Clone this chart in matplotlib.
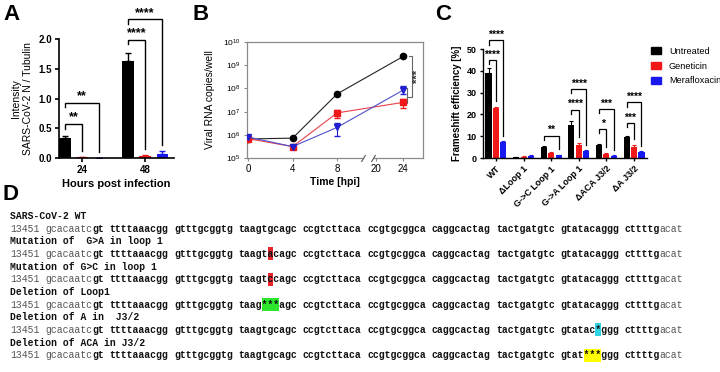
import numpy as np
import matplotlib
matplotlib.use('Agg')
import matplotlib.pyplot as plt
from matplotlib.patches import Rectangle, Patch

plt.rcParams['font.family'] = ['Liberation Sans', 'DejaVu Sans']
plt.rcParams['mathtext.fontset'] = 'custom'
plt.rcParams['mathtext.rm'] = 'Liberation Sans'
plt.rcParams['mathtext.it'] = 'Liberation Sans'

# ---------------- data ----------------
# Panel A
a_hours = ['24', '48']
a_untreated = [0.34, 1.63]
a_untreated_err = [0.03, 0.14]
a_geneticin = [0.01, 0.04]
a_geneticin_err = [0.005, 0.01]
a_merafloxacin = [0.005, 0.07]
a_merafloxacin_err = [0.003, 0.05]
a_sig_group = [0, 0, 1, 1]
a_sig_bar = [1, 2, 1, 2]
a_sig_height = [0.57, 0.93, 1.99, 2.33]
a_sig_text = ['**', '**', '****', '****']

# Panel B
b_time = [0, 4, 8, 24]
b_untreated = [6.6e5, 7.2e5, 5.8e7, 2.4e9]
b_geneticin = [6.8e5, 3.1e5, 8.8e6, 2.5e7]
b_geneticin_lo = [6.8e5, 3.1e5, 5.5e6, 1.4e7]
b_geneticin_hi = [6.8e5, 3.1e5, 1.2e7, 3.5e7]
b_merafloxacin = [8.0e5, 3.1e5, 2.1e6, 8.5e7]
b_merafloxacin_lo = [8.0e5, 3.1e5, 9.0e5, 5.7e7]
b_merafloxacin_hi = [8.0e5, 3.1e5, 3.1e6, 1.25e8]
b_xticks = [0, 4, 8, 20, 24]
b_sig_text = '***'

# Panel C
c_constructs = ['WT', 'ΔLoop 1', 'G->C Loop 1', 'G->A Loop 1', 'ΔACA J3/2', 'ΔA J3/2']
c_untreated = [39.0, 0.3, 4.9, 15.2, 5.9, 9.6]
c_untreated_err = [2.5, 0.1, 0.4, 2.0, 0.4, 0.7]
c_geneticin = [22.9, 0.5, 2.2, 5.8, 2.0, 5.0]
c_geneticin_err = [0.6, 0.2, 0.6, 1.2, 0.5, 1.0]
c_merafloxacin = [7.2, 1.0, 1.2, 3.0, 1.1, 2.6]
c_merafloxacin_err = [0.4, 0.2, 0.3, 0.5, 0.2, 0.4]
c_sig_group = [0, 0, 2, 3, 3, 4, 4, 5, 5]
c_sig_bar = [1, 2, 2, 1, 2, 1, 2, 1, 2]
c_sig_height = [45.0, 54.0, 10.2, 22.2, 31.6, 13.3, 22.5, 16.0, 25.5]
c_sig_text = ['****', '****', '**', '****', '****', '*', '***', '***', '****']
series_names = ['Untreated', 'Geneticin', 'Merafloxacin']

# Panel D
d_titles = ['SARS-CoV-2 WT',
            'Mutation of  G>A in loop 1',
            'Mutation of G>C in loop 1',
            'Deletion of Loop1',
            'Deletion of A in  J3/2',
            'Deletion of ACA in J3/2']
d_sequences = [
    '13451 gcacaatcgt ttttaaacgg gtttgcggtg taagtgcagc ccgtcttaca ccgtgcggca caggcactag tactgatgtc gtatacaggg cttttgacat',
    '13451 gcacaatcgt ttttaaacgg gtttgcggtg taagtacagc ccgtcttaca ccgtgcggca caggcactag tactgatgtc gtatacaggg cttttgacat',
    '13451 gcacaatcgt ttttaaacgg gtttgcggtg taagtccagc ccgtcttaca ccgtgcggca caggcactag tactgatgtc gtatacaggg cttttgacat',
    '13451 gcacaatcgt ttttaaacgg gtttgcggtg taag***agc ccgtcttaca ccgtgcggca caggcactag tactgatgtc gtatacaggg cttttgacat',
    '13451 gcacaatcgt ttttaaacgg gtttgcggtg taagtgcagc ccgtcttaca ccgtgcggca caggcactag tactgatgtc gtatac*ggg cttttgacat',
    '13451 gcacaatcgt ttttaaacgg gtttgcggtg taagtgcagc ccgtcttaca ccgtgcggca caggcactag tactgatgtc gtat***ggg cttttgacat',
]
d_highlight = [None, '#e8262a', '#e8262a', '#2ee62e', '#2fd4e4', '#ffff00']

# ---------------- figure ----------------
W, H = 720, 372
fig = plt.figure(figsize=(W / 100, H / 100), dpi=100)


def rect(l, t, r, b):
    return [l / W, 1 - b / H, (r - l) / W, (b - t) / H]


BLACK = '#000000'
RED = '#f01818'
BLUE = '#1818f0'
colors = [BLACK, RED, BLUE]


def bracket(ax, x1, x2, h, y2top, text, span, fs, lw=1.0):
    leg1 = h - 0.04 * span
    leg2 = y2top + 0.05 * span
    ax.plot([x1, x1, x2, x2], [leg1, h, h, leg2], color='k', lw=lw,
            clip_on=False, solid_joinstyle='miter')
    ax.text((x1 + x2) / 2, h + 0.005 * span, text, ha='center', va='bottom',
            fontsize=fs, fontweight='bold', clip_on=False)


# ---------- Panel A ----------
axA = fig.add_axes(rect(59, 39, 174, 158))
xg = np.arange(len(a_hours))
off = 0.27
wA = 0.175
vals = [a_untreated, a_geneticin, a_merafloxacin]
errs = [a_untreated_err, a_geneticin_err, a_merafloxacin_err]
for i in range(3):
    axA.bar(xg + (i - 1) * off, vals[i], wA, color=colors[i], zorder=2)
    axA.errorbar(xg + (i - 1) * off, vals[i], yerr=[np.zeros(len(xg)), errs[i]],
                 fmt='none', ecolor=colors[i], elinewidth=1.0, capsize=2.5,
                 capthick=1.0, zorder=2)
axA.set_xlim(-0.365, 1.46)
axA.set_ylim(0, 2.0)
axA.set_yticks([0, 0.5, 1.0, 1.5, 2.0])
axA.set_yticklabels(['0.0', '0.5', '1.0', '1.5', '2.0'])
axA.set_xticks(xg)
axA.set_xticklabels(a_hours)
for s in ['top', 'right']:
    axA.spines[s].set_visible(False)
for s in ['left', 'bottom']:
    axA.spines[s].set_linewidth(1.2)
axA.tick_params(width=1.2, length=3, labelsize=7, pad=2)
for lab in axA.get_xticklabels() + axA.get_yticklabels():
    lab.set_fontweight('bold')
axA.set_xlabel('Hours post infection', fontsize=8, fontweight='bold', labelpad=3)
axA.set_ylabel('Intensity\nSARS-CoV-2 N / Tubulin', fontsize=7.5, labelpad=4,
               linespacing=1.25)
for g, b, h, t in zip(a_sig_group, a_sig_bar, a_sig_height, a_sig_text):
    x1 = g - off
    x2 = g + (b - 1) * off
    y2 = vals[b][g] + errs[b][g]
    bracket(axA, x1, x2, h, y2, t, 2.0, 9)

# ---------- Panel B ----------
axB = fig.add_axes(rect(247, 42, 423, 158))


def fwd(x):
    x = np.asarray(x, float)
    return np.where(x <= 8, x, np.where(x >= 20, 11.5 + (x - 20) * 0.61,
                                        8 + (x - 8) * 3.5 / 12))


def inv(p):
    p = np.asarray(p, float)
    return np.where(p <= 8, p, np.where(p >= 11.5, 20 + (p - 11.5) / 0.61,
                                        8 + (p - 8) * 12 / 3.5))


axB.set_xscale('function', functions=(fwd, inv))
axB.set_yscale('log')
axB.plot(b_time, b_untreated, color='#222222', lw=0.8, marker='o', ms=4.5,
         mfc='k', mec='k', zorder=3)
gl = np.array(b_geneticin)
axB.errorbar(b_time, b_geneticin,
             yerr=[gl - np.array(b_geneticin_lo), np.array(b_geneticin_hi) - gl],
             color='#e8404a', lw=0.8, marker='s', ms=4.5, mfc='#f01818', mec='#f01818',
             ecolor='#f01818', elinewidth=0.8, capsize=2, zorder=3)
ml = np.array(b_merafloxacin)
axB.errorbar(b_time, b_merafloxacin,
             yerr=[ml - np.array(b_merafloxacin_lo), np.array(b_merafloxacin_hi) - ml],
             color='#5050c8', lw=0.8, marker='v', ms=4.5, mfc='#2020d0', mec='#2020d0',
             ecolor='#2020d0', elinewidth=0.8, capsize=2, zorder=3)
axB.set_xlim(-0.1, 26.9)
axB.set_ylim(1e5, 1e10)
axB.set_yticks([1e5, 1e6, 1e7, 1e8, 1e9, 1e10])
axB.set_yticklabels([r'$10^{%d}$' % k for k in range(5, 11)])
axB.yaxis.set_minor_locator(matplotlib.ticker.NullLocator())
axB.xaxis.set_minor_locator(matplotlib.ticker.NullLocator())
axB.set_xticks(b_xticks)
axB.set_xticklabels([str(v) for v in b_xticks])
for s in axB.spines.values():
    s.set_color('#8a8a8a')
    s.set_linewidth(0.9)
axB.tick_params(color='#8a8a8a', length=2.5, width=0.8, pad=2)
axB.tick_params(axis='x', labelsize=7)
axB.tick_params(axis='y', labelsize=6)
axB.set_xlabel('Time [hpi]', fontsize=7.5, fontweight='bold', labelpad=2)
axB.set_ylabel('Viral RNA copies/well', fontsize=7.5, labelpad=6)
# axis break
btr = axB.get_xaxis_transform()
axB.add_patch(Rectangle((16.0, -0.04), 3.0, 1.025, transform=btr, color='white',
                        zorder=2.7, clip_on=False, lw=0))
axB.plot([16.0, 19.0], [0, 0], transform=btr, marker=[(-0.6, -1), (0.6, 1)],
         ms=5, ls='none', color='#555555', mew=0.8, clip_on=False, zorder=3)
# significance bracket
axB.plot([24.8, 25.3, 25.3, 24.6], [2.4e9, 2.4e9, 4.2e7, 4.2e7], color='#666666',
         lw=0.8, clip_on=False)
axB.plot([24.2, 24.6, 24.6, 24.2], [1.0e8, 1.0e8, 2.4e7, 2.4e7], color='#666666',
         lw=0.8, clip_on=False)
axB.text(26.2, 3.2e8, b_sig_text, rotation=90, ha='center', va='center',
         fontsize=8, fontweight='bold', color='#333333', clip_on=False)

# ---------- Panel C ----------
axC = fig.add_axes(rect(483, 49, 647, 158))
xc = np.arange(len(c_constructs))
offC = 0.27
wC = 0.22
cvals = [c_untreated, c_geneticin, c_merafloxacin]
cerrs = [c_untreated_err, c_geneticin_err, c_merafloxacin_err]
for i in range(3):
    axC.bar(xc + (i - 1) * offC, cvals[i], wC, color=colors[i], zorder=2,
            label=series_names[i])
    axC.errorbar(xc + (i - 1) * offC, cvals[i], yerr=[np.zeros(len(xc)), cerrs[i]],
                 fmt='none', ecolor=colors[i], elinewidth=0.8, capsize=1.5,
                 capthick=0.8, zorder=2)
axC.set_xlim(-0.47, 5.47)
axC.set_ylim(0, 50)
axC.set_yticks([0, 10, 20, 30, 40, 50])
axC.set_xticks(xc)
axC.set_xticklabels(c_constructs, rotation=45, ha='right', rotation_mode='anchor')
for s in ['top', 'right']:
    axC.spines[s].set_visible(False)
for s in ['left', 'bottom']:
    axC.spines[s].set_linewidth(1.0)
axC.tick_params(width=1.0, length=2.5, labelsize=6.5, pad=2)
for lab in axC.get_xticklabels() + axC.get_yticklabels():
    lab.set_fontweight('bold')
axC.set_ylabel('Frameshift efficiency [%]', fontsize=7, fontweight='bold', labelpad=3)
for g, b, h, t in zip(c_sig_group, c_sig_bar, c_sig_height, c_sig_text):
    x1 = g - offC
    x2 = g + (b - 1) * offC
    y2 = cvals[b][g] + cerrs[b][g]
    bracket(axC, x1, x2, h, y2, t, 50.0, 7.5, lw=0.9)
handles = [Patch(color=c) for c in colors]
axC.legend(handles, series_names, loc='upper left',
           bbox_to_anchor=(651 / W, 1 - 47 / H), bbox_transform=fig.transFigure,
           frameon=False, fontsize=6.6, handlelength=1.1, handleheight=0.85,
           handletextpad=0.85, labelspacing=0.62, borderaxespad=0, borderpad=0)

# ---------- panel letters ----------
for lab, x, y in [('A', 3, 4), ('B', 193, 4), ('C', 435, 4), ('D', 3, 184)]:
    fig.text(x / W, 1 - y / H, lab, fontsize=16, fontweight='bold', ha='left', va='top')

# ---------- Panel D ----------
x0 = 10.0
cw = 5.853
y_first = 216.0
dy = 12.65
mono = 'Liberation Mono'
wt = d_sequences[0]


def put(i_start, s, y, weight, color):
    fig.text((x0 + i_start * cw) / W, 1 - y / H, s, fontfamily=mono, fontsize=7,
             fontweight=weight, va='baseline', ha='left', color=color, zorder=3)


for k, (title, seq, hcol) in enumerate(zip(d_titles, d_sequences, d_highlight)):
    yt = y_first + 2 * k * dy
    ys = yt + dy
    put(0, title, yt + 3, 'bold', '#111111')
    if hcol is not None:
        diff = [i for i, (a, b) in enumerate(zip(seq, wt)) if a != b]
        for i in diff:
            fig.add_artist(Rectangle(((x0 + i * cw) / W, 1 - (ys + 6.5) / H),
                                     cw / W, 13 / H, transform=fig.transFigure,
                                     color=hcol, lw=0, zorder=1))
    # style per character: light prefix, bold middle, light suffix
    n = len(seq)
    style = ['light' if (i < 14 or i >= n - 4) else 'bold' for i in range(n)]
    i = 0
    while i < n:
        if seq[i] == ' ':
            i += 1
            continue
        j = i
        while j < n and seq[j] != ' ' and style[j] == style[i]:
            j += 1
        if style[i] == 'bold':
            put(i, seq[i:j], ys + 3, 'bold', '#111111')
        else:
            put(i, seq[i:j], ys + 3, 'normal', '#555555')
        i = j

fig.savefig('out.png', dpi=100)
